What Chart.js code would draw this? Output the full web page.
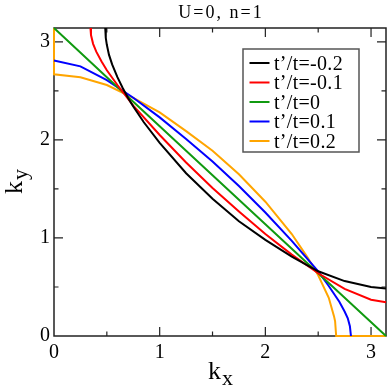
<!DOCTYPE html>
<html lang="en">
<head>
  <meta charset="UTF-8" />
  <title>Fermi surface U=0, n=1</title>
  <script src="https://cdn.jsdelivr.net/npm/chart.js"></script>
  <style>
    body {
      margin: 0;
      background: #fff;
    }
    canvas {
      display: block;
    }
  </style>
</head>
<body>
  <canvas id="fsChart" width="388" height="388"></canvas>

  <script>
    const kMax = 3.1416;
    const tickValues = [0, 1, 2, 3];
    const minorValues = [0.5, 1.5, 2.5];

    const seriesLabels = ['t’/t=-0.2', 't’/t=-0.1', 't’/t=0', 't’/t=0.1', 't’/t=0.2'];
    const seriesColors = ['#000000', '#ff0000', '#109a10', '#0000ff', '#ffa500'];

    // values (kx, ky)
    const kxBlack = [0.485, 0.49, 0.50, 0.52, 0.55, 0.60, 0.65, 0.70, 0.75, 0.85, 1.0, 1.25, 1.5, 1.75, 2.0, 2.25, 2.5, 2.75, 3.0, 3.1416];
    const kyBlack = [3.1416, 3.04, 2.97, 2.87, 2.77, 2.64, 2.53, 2.43, 2.34, 2.18, 1.97, 1.66, 1.40, 1.17, 0.98, 0.81, 0.66, 0.56, 0.50, 0.485];

    const kxRed = [0.345, 0.35, 0.37, 0.40, 0.45, 0.50, 0.60, 0.75, 1.0, 1.25, 1.5, 1.75, 2.0, 2.25, 2.5, 2.75, 3.0, 3.1416];
    const kyRed = [3.1416, 3.07, 2.98, 2.90, 2.80, 2.71, 2.56, 2.35, 2.05, 1.77, 1.51, 1.27, 1.04, 0.83, 0.64, 0.48, 0.37, 0.345];

    const kxGreen = [0, 0.5, 1.0, 1.5, 2.0, 2.5, 3.1416];
    const kyGreen = [3.1416, 2.64, 2.14, 1.64, 1.14, 0.64, 0];

    const kxBlue = [0, 0.25, 0.5, 0.75, 1.0, 1.25, 1.5, 1.75, 2.0, 2.25, 2.5, 2.6, 2.7, 2.75, 2.78, 2.79, 2.80, 2.81];
    const kyBlue = [2.81, 2.75, 2.61, 2.43, 2.23, 2.01, 1.78, 1.53, 1.26, 0.97, 0.66, 0.51, 0.35, 0.25, 0.18, 0.14, 0.10, 0];

    const kxOrange = [0, 0, 0.25, 0.5, 0.75, 1.0, 1.25, 1.5, 1.75, 2.0, 2.25, 2.4, 2.5, 2.6, 2.65, 2.66, 2.67, 3.1416];
    const kyOrange = [3.1416, 2.67, 2.64, 2.56, 2.43, 2.28, 2.09, 1.89, 1.65, 1.37, 1.04, 0.80, 0.62, 0.39, 0.20, 0.15, 0, 0];

    const allKx = [kxBlack, kxRed, kxGreen, kxBlue, kxOrange];
    const allKy = [kyBlack, kyRed, kyGreen, kyBlue, kyOrange];

    const serif = "'Liberation Serif', 'DejaVu Serif', serif";

    const datasets = seriesLabels.map((label, s) => ({
      label: label,
      data: allKx[s].map((x, i) => ({ x: x, y: allKy[s][i] })),
      borderColor: seriesColors[s],
      borderWidth: 2,
      pointRadius: 0,
      fill: false,
      tension: 0,
      clip: false
    }));

    // frame, inward ticks, legend box and titles
    const decorations = {
      id: 'decorations',
      beforeDatasetsDraw(chart) {
        const ctx = chart.ctx;
        const a = chart.chartArea;
        const xs = chart.scales.x;
        const ys = chart.scales.y;
        ctx.save();
        ctx.strokeStyle = '#222';
        ctx.lineWidth = 1.5;
        ctx.strokeRect(a.left, a.top, a.right - a.left, a.bottom - a.top);

        ctx.lineWidth = 1.2;
        ctx.beginPath();
        const drawX = (v, len) => {
          const p = xs.getPixelForValue(v);
          ctx.moveTo(p, a.bottom); ctx.lineTo(p, a.bottom - len);
          ctx.moveTo(p, a.top); ctx.lineTo(p, a.top + len);
        };
        const drawY = (v, len) => {
          const p = ys.getPixelForValue(v);
          ctx.moveTo(a.left, p); ctx.lineTo(a.left + len, p);
          ctx.moveTo(a.right, p); ctx.lineTo(a.right - len, p);
        };
        tickValues.filter(v => v > 0).forEach(v => { drawX(v, 9); drawY(v, 9); });
        minorValues.forEach(v => { drawX(v, 4.5); drawY(v, 4.5); });
        ctx.stroke();
        ctx.restore();
      },
      afterDraw(chart) {
        const ctx = chart.ctx;
        const a = chart.chartArea;
        const midX = (a.left + a.right) / 2;
        const midY = (a.top + a.bottom) / 2;
        ctx.save();
        ctx.fillStyle = '#000';

        // title
        ctx.font = '18px ' + serif;
        ctx.letterSpacing = '2px';
        ctx.textAlign = 'center';
        ctx.textBaseline = 'alphabetic';
        ctx.fillText('U=0, n=1', midX + 1, 18);
        ctx.letterSpacing = '0px';

        // x axis title k_x
        ctx.textAlign = 'left';
        ctx.font = '26px ' + serif;
        const wk = ctx.measureText('k').width;
        ctx.font = '22px ' + serif;
        const wsub = ctx.measureText('x').width;
        let x0 = midX - (wk + wsub) / 2;
        ctx.font = '26px ' + serif;
        ctx.fillText('k', x0, 378.5);
        ctx.font = '22px ' + serif;
        ctx.fillText('x', x0 + wk + 1, 385);

        // y axis title k_y
        ctx.save();
        ctx.translate(0, midY);
        ctx.rotate(-Math.PI / 2);
        ctx.font = '26px ' + serif;
        const wk2 = ctx.measureText('k').width;
        ctx.font = '22px ' + serif;
        const wsub2 = ctx.measureText('y').width;
        const y0 = -(wk2 + wsub2) / 2;
        ctx.font = '26px ' + serif;
        ctx.fillText('k', y0, 22);
        ctx.font = '22px ' + serif;
        ctx.fillText('y', y0 + wk2 + 1, 27);
        ctx.restore();

        // legend
        const box = { left: 243, top: 49, right: 359, bottom: 152 };
        ctx.fillStyle = '#fff';
        ctx.fillRect(box.left, box.top, box.right - box.left, box.bottom - box.top);
        ctx.strokeStyle = '#555';
        ctx.lineWidth = 1.5;
        ctx.strokeRect(box.left, box.top, box.right - box.left, box.bottom - box.top);
        ctx.font = '20px ' + serif;
        ctx.letterSpacing = '0.3px';
        ctx.textAlign = 'left';
        chart.data.datasets.forEach((ds, i) => {
          const rowY = 63 + i * 19.5;
          ctx.strokeStyle = ds.borderColor;
          ctx.lineWidth = 2;
          ctx.beginPath();
          ctx.moveTo(249.5, rowY);
          ctx.lineTo(269.5, rowY);
          ctx.stroke();
          ctx.fillStyle = '#000';
          ctx.fillText(ds.label, 274, rowY + 6.5);
        });
        ctx.restore();
      }
    };

    const chart = new Chart(document.getElementById('fsChart'), {
      type: 'line',
      data: { datasets: datasets },
      options: {
        responsive: false,
        animation: false,
        layout: { padding: { top: 28, right: 2, left: 0, bottom: 0 } },
        plugins: {
          legend: { display: false },
          tooltip: { enabled: false },
          title: { display: false }
        },
        scales: {
          x: {
            type: 'linear',
            min: 0,
            max: kMax,
            grid: { display: false, drawTicks: false },
            border: { display: false },
            afterBuildTicks: (scale) => { scale.ticks = tickValues.map(v => ({ value: v })); },
            afterFit: (scale) => { scale.height = 52; },
            ticks: {
              padding: 5,
              maxRotation: 0,
              autoSkip: false,
              color: '#000',
              font: { family: serif, size: 20 },
              callback: (v) => String(v)
            }
          },
          y: {
            type: 'linear',
            min: 0,
            max: kMax,
            grid: { display: false, drawTicks: false },
            border: { display: false },
            afterBuildTicks: (scale) => { scale.ticks = tickValues.map(v => ({ value: v })); },
            afterFit: (scale) => { scale.width = 54; },
            ticks: {
              padding: 4,
              autoSkip: false,
              color: '#000',
              font: { family: serif, size: 20 },
              callback: (v) => String(v)
            }
          }
        }
      },
      plugins: [decorations]
    });
  </script>
</body>
</html>
